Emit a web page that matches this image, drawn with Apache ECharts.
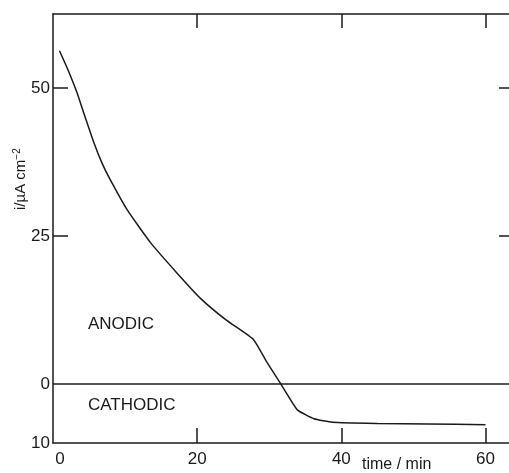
<!DOCTYPE html>
<html>
<head>
<meta charset="utf-8">
<script src="https://cdn.jsdelivr.net/npm/echarts@6/dist/echarts.min.js"></script>
<style>html,body{margin:0;padding:0;background:#fff}#c{width:509px;height:473px}</style>
</head>
<body>
<div id="c"></div>
<script>
// Data
const timeMin = [0.9, 2.1, 3.3, 4.2, 5.6, 6.8, 7.9, 10.3, 13.5, 17, 20.5, 24, 27.8, 29.6, 31.6, 33.9, 36.2, 38.8, 45, 52, 60];
const currentDensity = [56.3, 53, 49.3, 46, 41, 37.3, 34.6, 29.4, 23.9, 19, 14.4, 10.8, 7.5, 3.8, 0, -4.4, -5.9, -6.5, -6.7, -6.8, -6.9];
const xTickValues = [20, 40, 60];
const xLabelValues = [0, 20, 40, 60];
const yTickValues = [25, 50];
const yLabelValues = [-10, 0, 25, 50];
const zeroLevel = 0;
const regionLabels = ['ANODIC', 'CATHODIC'];
const xAxisTitle = 'time / min';
const yAxisTitle = ['i/µA cm', '−2'];

const ink = '#1a1a1a';
const font = 'Liberation Sans, Arial, sans-serif';
const chart = echarts.init(document.getElementById('c'));

const axisLineStyle = { color: ink, width: 1.5 };
const seriesData = timeMin.map((t, i) => [t, currentDensity[i]]);

chart.setOption({
  animation: false,
  grid: { left: 53, right: 0, top: 14, bottom: 30 },
  xAxis: [
    {
      type: 'value', position: 'bottom', min: 0, max: 63.26, interval: 20,
      axisLine: { show: true, onZero: false, lineStyle: axisLineStyle },
      axisTick: { show: true, inside: true, length: 15, lineStyle: axisLineStyle, customValues: xTickValues },
      axisLabel: {
        show: true, customValues: xLabelValues, margin: 8,
        color: ink, fontFamily: font, fontSize: 17,
        formatter: v => v === 0 ? '{z|0}' : String(v),
        rich: { z: { padding: [0, 0, 0, 14], color: ink, fontFamily: font, fontSize: 17 } }
      },
      splitLine: { show: false }
    },
    {
      type: 'value', position: 'top', min: 0, max: 63.26, interval: 20,
      axisLine: { show: true, onZero: false, lineStyle: axisLineStyle },
      axisTick: { show: true, inside: true, length: 14, lineStyle: axisLineStyle, customValues: xTickValues },
      axisLabel: { show: false },
      splitLine: { show: false }
    }
  ],
  yAxis: [
    {
      type: 'value', position: 'left', min: -10, max: 62.5, interval: 5,
      axisLine: { show: true, onZero: false, lineStyle: axisLineStyle },
      axisTick: { show: true, inside: true, length: 15, lineStyle: axisLineStyle, customValues: yTickValues },
      axisLabel: {
        show: true, customValues: yLabelValues, margin: 3,
        color: ink, fontFamily: font, fontSize: 17,
        formatter: v => String(Math.abs(v))
      },
      splitLine: { show: false }
    },
    {
      type: 'value', position: 'right', min: -10, max: 62.5, interval: 5,
      axisLine: { show: false, onZero: false, lineStyle: axisLineStyle },
      axisTick: { show: true, inside: true, length: 10, lineStyle: axisLineStyle, customValues: yTickValues },
      axisLabel: { show: false },
      splitLine: { show: false }
    }
  ],
  series: [
    {
      type: 'line',
      data: seriesData,
      xAxisIndex: 0, yAxisIndex: 0,
      showSymbol: false,
      smooth: 0.15,
      lineStyle: { color: ink, width: 1.5 },
      markLine: {
        silent: true,
        symbol: 'none',
        label: { show: false },
        lineStyle: { color: ink, width: 1.5, type: 'solid' },
        data: [{ yAxis: zeroLevel }]
      }
    }
  ],
  graphic: [
    { type: 'text', left: 88, top: 316, style: { text: regionLabels[0], fill: ink, font: '17px ' + font } },
    { type: 'text', left: 88, top: 397, style: { text: regionLabels[1], fill: ink, font: '17px ' + font } },
    { type: 'text', left: 362, top: 457, style: { text: xAxisTitle, fill: ink, font: '16px ' + font } },
    {
      type: 'text', x: 12, y: 210, rotation: Math.PI / 2,
      style: {
        text: '{a|' + yAxisTitle[0] + '}{s|' + yAxisTitle[1] + '}',
        rich: {
          a: { fontSize: 15, fontFamily: font, fill: ink, color: ink },
          s: { fontSize: 10, fontFamily: font, fill: ink, color: ink, verticalAlign: 'top', padding: [0, 0, 8, 0] }
        }
      }
    }
  ]
});
</script>
</body>
</html>
